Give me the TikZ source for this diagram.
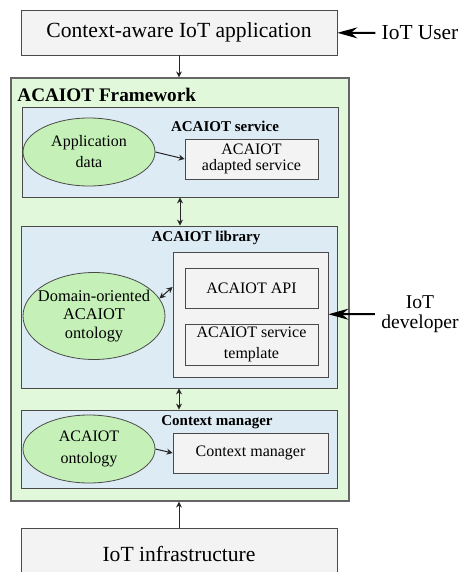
\documentclass[tikz,border=0pt]{standalone}
\usepackage{fontspec}
\setmainfont{Liberation Serif}
\usepackage{tikz}
\usetikzlibrary{arrows.meta}
\usetikzlibrary{shapes.geometric}

\definecolor{boxgray}{HTML}{F3F3F3}
\definecolor{fwgreen}{HTML}{E1F8DA}
\definecolor{partblue}{HTML}{DCEBF4}
\definecolor{ovalgreen}{HTML}{C5F1B8}
\definecolor{edgegray}{HTML}{4A4A4A}

\begin{document}
\begin{tikzpicture}[x=0.5pt,y=-0.5pt]
      \useasboundingbox (0,0) rectangle (471,572);

      % framework frame
      \node[draw=edgegray!85, fill=fwgreen, line width=0.6pt, minimum width=169pt, minimum height=211.5pt] (fw) at (180,289.5) {};
      \node[anchor=west, inner sep=0pt, font=\fontsize{9.6}{11}\selectfont\bfseries] (fwtitle) at (17,95) {ACAIOT Framework};

      \begin{scope}[every node/.style={draw=edgegray, fill=partblue, minimum width=158pt, inner sep=0pt}]
        \node[minimum height=45pt] (svc) at (180,152) {};
        \node[minimum height=81pt] (lib) at (179,307) {};
        \node[minimum height=39pt] (ctx) at (179,449) {};
      \end{scope}

      \begin{scope}[every node/.style={inner sep=0pt, font=\fontsize{7.5}{9}\selectfont\bfseries}]
        \node (svctitle) at (225,126) {ACAIOT service};
        \node (libtitle) at (206,238) {ACAIOT library};
        \node (ctxtitle) at (217,422) {Context manager};
      \end{scope}

      \begin{scope}[every node/.style={draw=edgegray, fill=boxgray, minimum width=158pt, font=\fontsize{10.8}{13}\selectfont}]
        \node[minimum height=22.5pt] (app) at (179,32.5) {Context-aware IoT application};
        \node[minimum height=26pt] (infra) at (179,554) {IoT infrastructure};
      \end{scope}

      \begin{scope}[every node/.style={draw=edgegray, fill=boxgray, align=center, inner sep=0pt, font=\fontsize{8}{8}\selectfont}]
        \node[minimum width=77.5pt, minimum height=62.5pt] (apibox) at (250.5,314.5) {};
        \node[minimum width=66.5pt, minimum height=20pt] (adapted) at (251.5,159) {ACAIOT\\adapted service};
        \node[minimum width=66.5pt, minimum height=20pt] (api) at (251.5,288) {ACAIOT API};
        \node[minimum width=66.5pt, minimum height=20.5pt, font=\fontsize{8}{10.5}\selectfont] (tmpl) at (251.5,344.5) {ACAIOT service\\template};
        \node[minimum width=77.5pt, minimum height=20pt] (cm) at (250.5,453) {Context manager};
      \end{scope}

      \begin{scope}[every node/.style={ellipse, draw=edgegray, fill=ovalgreen, inner sep=0pt, align=center}]
        \node[minimum width=66pt, minimum height=34pt, font=\fontsize{8}{10.5}\selectfont] (appdata) at (89,152) {Application\\data};
        \node[minimum width=71pt, minimum height=43.5pt, inner xsep=-4pt, font=\fontsize{8.2}{9.3}\selectfont] (dom) at (94,316) {Domain-oriented\\ACAIOT\\ontology};
        \node[minimum width=66pt, minimum height=34pt, font=\fontsize{8}{11}\selectfont] (onto) at (89,449) {ACAIOT\\ontology};
      \end{scope}

      \begin{scope}[every node/.style={inner sep=3pt, align=center}]
        \node[font=\fontsize{10.7}{13}\selectfont] (user) at (420,33) {IoT User};
        \node[font=\fontsize{9.8}{10}\selectfont] (dev) at (420,314) {IoT\\developer};
      \end{scope}

      \begin{scope}[>={Stealth[length=3pt,width=3pt]},
          every edge/.style={draw=black!85, line width=0.5pt}]
        \path [->] (app.south) edge (app.south |- fw.north);
        \path [->] (appdata.east) edge (adapted.west);
        \path [<->] (svc.south) edge (svc.south |- lib.north);
        \path [<->] (dom.15) edge ([yshift=13.75pt]apibox.west);
        \path [<->] (lib.south) edge (lib.south |- ctx.north);
        \path [->] (onto.east) edge (cm.west);
        \path [->] (infra.north) edge (infra.north |- fw.south);
      \end{scope}

      \begin{scope}[>={Stealth[length=10pt,width=5.5pt]},
          every edge/.style={draw=black, line width=1pt}]
        \path [->] (user) edge (app);
        \path [->] (dev) edge (apibox);
      \end{scope}
    \end{tikzpicture}
\end{document}
